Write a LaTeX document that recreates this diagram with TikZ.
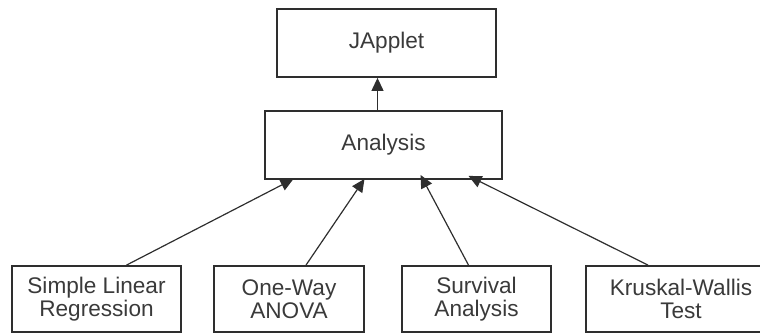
\documentclass[tikz,border=0pt]{standalone}
\usepackage{fontspec}
\setmainfont{Liberation Sans}
\usetikzlibrary{arrows.meta}
\definecolor{lineGray}{HTML}{2E2E2E}
\definecolor{textGray}{HTML}{3A3A3A}
\newcommand{\clsFont}{\fontsize{22.6}{23.5}\selectfont}

\begin{document}
\begin{tikzpicture}[x=1pt,y=-1pt,
  classBox/.style={draw=lineGray, line width=1.8pt, inner sep=0pt, align=center,
    text=textGray, font=\clsFont},
  inherits/.style={draw=lineGray, line width=1.2pt, -{Triangle[length=13pt,width=12pt]}}]
\useasboundingbox (0,0) rectangle (760,333);
\node[classBox, minimum width=219, minimum height=68] (japplet) at (386.5,43) {JApplet};
\node[classBox, minimum width=237, minimum height=68] (analysis) at (383.5,145) {Analysis};
\node[classBox, minimum width=169, minimum height=66] (linreg) at (96.5,299) {Simple Linear\\Regression};
\node[classBox, minimum width=150, minimum height=66] (anova) at (289,299) {One-Way\\ANOVA};
\node[classBox, minimum width=149, minimum height=66] (survival) at (476.5,299) {Survival\\Analysis};
\node[classBox, minimum width=190, minimum height=66] (kruskal) at (681,299) {Kruskal-Wallis\\Test};
% subclasses point up to their parent
\draw[inherits] ([xshift=-6]analysis.north) -- ([xshift=-6]analysis.north |- japplet.south);
\draw[inherits] ([xshift=30]linreg.north) -- ([xshift=-90,yshift=1]analysis.south);
\draw[inherits] ([xshift=17]anova.north) -- ([xshift=-19,yshift=1]analysis.south);
\draw[inherits] ([xshift=-8]survival.north) -- ([xshift=37,yshift=5]analysis.south);
\draw[inherits] ([xshift=-33]kruskal.north) -- ([xshift=85,yshift=4]analysis.south);
\end{tikzpicture}
\end{document}
